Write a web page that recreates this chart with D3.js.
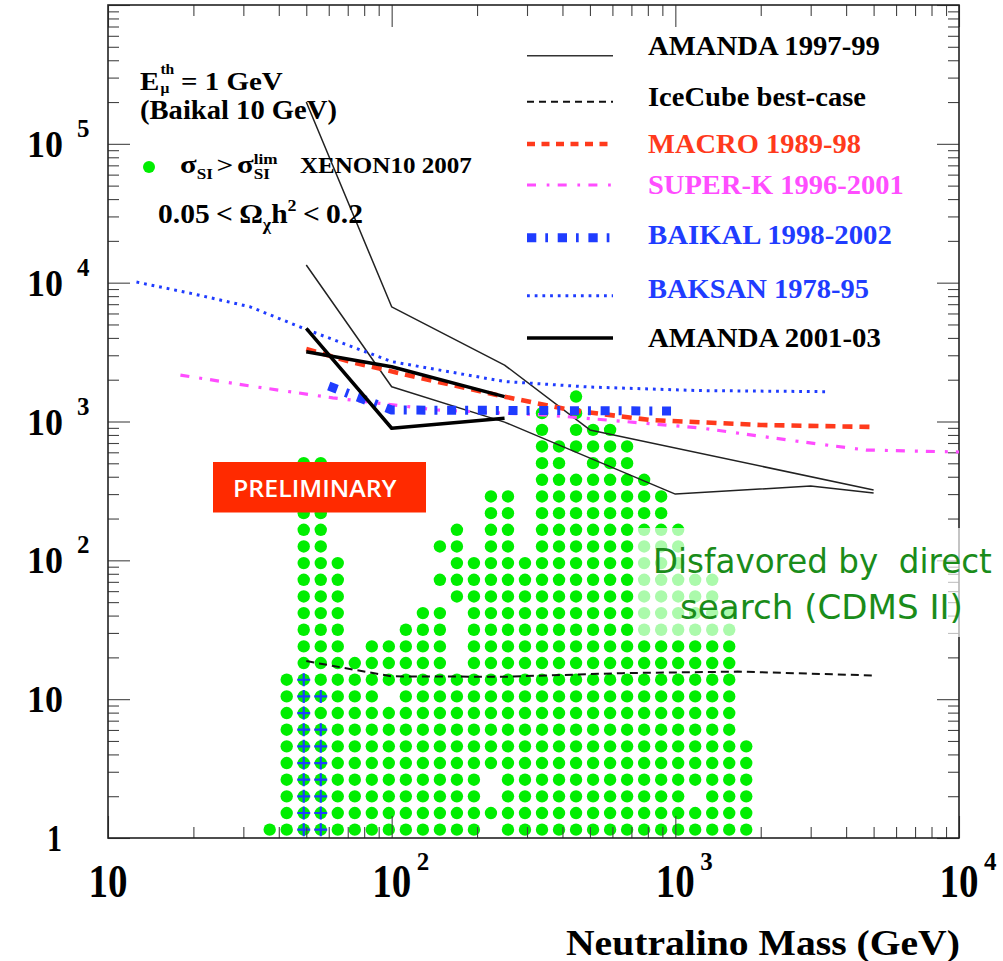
<!DOCTYPE html>
<html>
<head>
<meta charset="utf-8">
<script src="https://cdn.jsdelivr.net/npm/d3@7/dist/d3.min.js"></script>
<style>
  html, body { margin: 0; padding: 0; background: #fff; }
  svg { display: block; }
  text { font-family: "Liberation Serif", "Times New Roman", serif; font-weight: bold; white-space: pre; }
</style>
</head>
<body>
<svg id="chart" width="1003" height="961"></svg>
<script>
// ---------------- data ----------------
// Muon flux limits from the Sun (km^-2 yr^-1) versus neutralino mass (GeV)
const amanda9799Soft = [[50, 2.0e5], [100, 6700], [250, 2550], [500, 870], [5000, 321]];
const amanda9799Hard = [[50, 13400], [100, 1780], [250, 990], [1000, 300], [3000, 343], [5000, 305]];
const amanda0103Soft = [[50, 4690], [100, 894], [250, 1055]];
const amanda0103Hard = [[50, 3180], [100, 2480], [250, 1510]];
const icecubeBest = [[50, 18.8], [75, 16.2], [100, 14.6], [250, 14.5], [650, 15.4], [1660, 15.8], [5000, 14.8]];
const macro8998 = [[50, 3330], [71, 2700], [122, 2090], [250, 1510], [425, 1210], [814, 1025], [2000, 944], [5000, 913]];
const superK9601 = [[18, 2160], [33, 1780], [62, 1480], [145, 1210], [360, 1110], [1220, 900], [2750, 716], [4700, 623], [10000, 603]];
const baikal9802 = [[60, 1800], [100, 1210], [1000, 1190]];
const baksan7895 = [[12.6, 10100], [20, 8300], [31.7, 6700], [50, 4600], [100, 2700], [250, 1940], [500, 1770], [1220, 1670], [3400, 1640]];

// Model scan: 50 x 50 log bins (mass 10..1e4 GeV, flux 1..1e6).
// Each entry: [mass bin, [[first flux bin, last flux bin], ...]]
const histMass = [10, 1e4], histFlux = [1, 1e6], histBins = 50;
const xenonCells = [
  [9,  [[0, 0]]],
  [10, [[0, 9]]],
  [11, [[0, 22]]],
  [12, [[0, 22]]],
  [13, [[0, 16]]],
  [14, [[0, 10]]],
  [15, [[0, 11]]],
  [16, [[0, 7], [9, 11]]],
  [17, [[0, 12]]],
  [18, [[0, 13]]],
  [19, [[0, 13], [15, 15], [17, 17]]],
  [20, [[0, 9], [14, 18]]],
  [21, [[0, 16]]],
  [22, [[1, 1], [4, 20]]],
  [23, [[0, 20]]],
  [24, [[0, 16]]],
  [25, [[0, 25]]],
  [26, [[0, 23]]],
  [27, [[0, 21], [23, 26]]],
  [28, [[0, 24]]],
  [29, [[0, 24]]],
  [30, [[0, 23]]],
  [31, [[0, 21]]],
  [32, [[0, 20]]],
  [33, [[0, 18]]],
  [34, [[0, 1], [3, 15]]],
  [35, [[0, 15]]],
  [36, [[0, 13]]],
  [37, [[0, 5]]]
];
// Models also excluded by Baikal
const crossCells = [
  [11, [[0, 9]]],
  [12, [[0, 6], [8, 8]]]
];

const xMajorExp = [1, 2, 3, 4];
const yMajorExp = [0, 1, 2, 3, 4, 5];

const legendLabels = ["AMANDA 1997-99", "IceCube best-case", "MACRO 1989-98", "SUPER-K 1996-2001",
                      "BAIKAL 1998-2002", "BAKSAN 1978-95", "AMANDA 2001-03"];

// ---------------- layout ----------------
const svg = d3.select("#chart");
const X0 = 108, X1 = 959, Y0 = 5, Y1 = 838;
const x = d3.scaleLog().domain([10, 1e4]).range([X0, X1]);
const y = d3.scaleLog().domain([1, 1e6]).range([Y1, Y0]);

const GREEN = "#00ee00", RED = "#ff3a1c", MAGENTA = "#ff4dff", BLUE = "#1f3cff";

// bin centre helpers
const lx0 = Math.log10(histMass[0]), lxw = (Math.log10(histMass[1]) - lx0) / histBins;
const ly0 = Math.log10(histFlux[0]), lyw = (Math.log10(histFlux[1]) - ly0) / histBins;
const massAt = i => Math.pow(10, lx0 + (i + 0.5) * lxw);
const fluxAt = j => Math.pow(10, ly0 + (j + 0.5) * lyw);
function expand(cells) {
  const pts = [];
  cells.forEach(([i, runs]) => runs.forEach(([a, b]) => {
    for (let j = a; j <= b; j++) pts.push([massAt(i), fluxAt(j)]);
  }));
  return pts;
}

// ---- scan points ----
svg.append("g").selectAll("circle").data(expand(xenonCells)).join("circle")
  .attr("cx", d => x(d[0])).attr("cy", d => y(d[1])).attr("r", 6.2).attr("fill", GREEN);

svg.append("g").selectAll("path").data(expand(crossCells)).join("path")
  .attr("transform", d => `translate(${x(d[0])},${y(d[1])})`)
  .attr("d", "M-6.5,0H6.5M0,-6.5V6.5")
  .attr("stroke", BLUE).attr("stroke-width", 2.2);

// ---- frame and ticks ----
const minors = (lo, hi) => {
  const v = [];
  for (let e = lo; e < hi; e++) for (let k = 2; k <= 9; k++) v.push(k * Math.pow(10, e));
  return v;
};
const xMaj = xMajorExp.map(e => Math.pow(10, e));
const yMaj = [0, 1, 2, 3, 4, 5, 6].map(e => Math.pow(10, e));
const xMin = minors(1, 4), yMin = minors(0, 6);

function axisLayer(axisFn, scale, pos, vals, size) {
  const g = svg.append("g").attr("transform", pos)
    .call(axisFn(scale).tickValues(vals).tickSize(-size).tickFormat(""));
  g.select(".domain").remove();
  g.selectAll(".tick line").attr("stroke", "#444").attr("stroke-width", 1.1);
}
axisLayer(d3.axisBottom, x, `translate(0,${Y1})`, xMaj, 22);
axisLayer(d3.axisBottom, x, `translate(0,${Y1})`, xMin, 11);
axisLayer(d3.axisTop, x, `translate(0,${Y0})`, xMaj, 22);
axisLayer(d3.axisTop, x, `translate(0,${Y0})`, xMin, 11);
axisLayer(d3.axisLeft, y, `translate(${X0},0)`, yMaj, 22);
axisLayer(d3.axisLeft, y, `translate(${X0},0)`, yMin, 11);
axisLayer(d3.axisRight, y, `translate(${X1},0)`, yMaj, 22);
axisLayer(d3.axisRight, y, `translate(${X1},0)`, yMin, 11);

svg.append("rect").attr("x", X0).attr("y", Y0).attr("width", X1 - X0).attr("height", Y1 - Y0)
  .attr("fill", "none").attr("stroke", "#222").attr("stroke-width", 1.6);

// ---- limit curves ----
const line = d3.line().x(d => x(d[0])).y(d => y(d[1]));
const curves = [
  { data: amanda9799Soft, stroke: "#222", width: 1.5, dash: null },
  { data: amanda9799Hard, stroke: "#222", width: 1.5, dash: null },
  { data: icecubeBest, stroke: "#111", width: 2, dash: "8,5" },
  { data: baksan7895, stroke: BLUE, width: 3, dash: "2.8,4.9" },
  { data: superK9601, stroke: MAGENTA, width: 3.2, dash: "9,10,3,8" },
  { data: macro8998, stroke: RED, width: 4.6, dash: "10,7" },
  { data: baikal9802, stroke: BLUE, width: 9, dash: "9,9,3,9.7" },
  { data: amanda0103Soft, stroke: "#000", width: 3.5, dash: null },
  { data: amanda0103Hard, stroke: "#000", width: 3.5, dash: null }
];
svg.append("g").selectAll("path").data(curves).join("path")
  .attr("d", d => line(d.data)).attr("fill", "none")
  .attr("stroke", d => d.stroke).attr("stroke-width", d => d.width)
  .attr("stroke-dasharray", d => d.dash).attr("stroke-linejoin", "round");

// ---- text helpers ----
// lay out pieces on one baseline; a "stack" piece shares the x of the previous one
function pieces(g, list, fill) {
  let cx = 0, prevStart = 0;
  list.forEach(p => {
    const start = p.stack ? prevStart : cx + (p.pre || 0);
    const t = g.append("text").attr("x", start).attr("y", p.dy || 0)
      .attr("font-size", p.size).attr("fill", p.fill || fill || "#000").text(p.t);
    if (p.family) t.style("font-family", p.family);
    if (p.weight) t.style("font-weight", p.weight);
    const w = t.node().getComputedTextLength();
    if (p.stack) cx = Math.max(cx, start + w);
    else { prevStart = start; cx = start + w; }
  });
}
// squeeze/stretch a group horizontally so its ink spans the given width
function fitted(parent, xPos, baseY, width, anchor, build) {
  const g = parent.append("g");
  build(g);
  const bb = g.node().getBBox();
  const sx = width / bb.width;
  const left = anchor === "end" ? xPos - width : anchor === "middle" ? xPos - width / 2 : xPos;
  g.attr("transform", `translate(${left - bb.x * sx},${baseY}) scale(${sx},1)`);
  return g;
}

// ---- axis labels ----
yMajorExp.forEach(e => {
  const ty = y(Math.pow(10, e));
  if (e === 0) {
    fitted(svg, 62, ty + 12.5, 15, "end", g => pieces(g, [{ t: "1", size: 37 }]));
  } else {
    fitted(svg, 63, ty + 13, 36, "end", g => pieces(g, [{ t: "10", size: 38 }]));
    if (e > 1) svg.append("text").attr("x", 77).attr("y", ty - 7).attr("font-size", 25).text(e);
  }
});
xMajorExp.forEach(e => {
  const tx = x(Math.pow(10, e));
  fitted(svg, tx, 897, 39, "middle", g => pieces(g, [{ t: "10", size: 47 }]));
  if (e > 1) svg.append("text").attr("x", tx + 25).attr("y", 870).attr("font-size", 25).text(e);
});
fitted(svg, 960, 955, 394, "end", g => pieces(g, [{ t: "Neutralino Mass (GeV)", size: 35 }]));

// ---- annotations ----
fitted(svg, 140, 90, 143, "start", g => pieces(g, [
  { t: "E", size: 26 }, { t: "th", size: 14, dy: -16, pre: 1 }, { t: "μ", size: 14, dy: 3, stack: true },
  { t: "= 1 GeV", size: 26, pre: 6 }
]));
fitted(svg, 140, 119, 197, "start", g => pieces(g, [{ t: "(Baikal 10 GeV)", size: 27 }]));
svg.append("circle").attr("cx", 149).attr("cy", 167).attr("r", 6).attr("fill", GREEN);
fitted(svg, 180, 173, 98, "start", g => pieces(g, [
  { t: "σ", size: 25 }, { t: "SI", size: 14, dy: 6 }, { t: ">", size: 24, pre: 3 },
  { t: "σ", size: 25, pre: 3 }, { t: "SI", size: 14, dy: 6 }, { t: "lim", size: 14, dy: -9, stack: true }
]));
fitted(svg, 300, 173, 172, "start", g => pieces(g, [{ t: "XENON10 2007", size: 24 }]));
fitted(svg, 158, 223, 205, "start", g => pieces(g, [
  { t: "0.05", size: 28 }, { t: "<", size: 28, pre: 6 }, { t: "Ω", size: 28, pre: 6 },
  { t: "χ", size: 17, dy: 7 }, { t: "h", size: 28 }, { t: "2", size: 17, dy: -12 },
  { t: "<", size: 28, pre: 6 }, { t: "0.2", size: 28, pre: 6 }
]));

// ---- legend ----
const legendStyle = [
  { stroke: "#333", width: 1.5, dash: null, fill: "#000" },
  { stroke: "#111", width: 2, dash: "7,5", fill: "#000" },
  { stroke: RED, width: 4.6, dash: "8,6.5", fill: RED },
  { stroke: MAGENTA, width: 3.2, dash: "9,10.7,2.7,8.3", fill: MAGENTA },
  { stroke: BLUE, width: 9, dash: "9.3,9,2.7,9.7", fill: BLUE },
  { stroke: BLUE, width: 3, dash: "2.8,4.9", fill: BLUE },
  { stroke: "#000", width: 3.5, dash: null, fill: "#000" }
];
const legendLineY = [55.7, 101.7, 144, 185, 237.7, 295.7, 338];
const legendBase = [55, 106, 152.7, 194, 244, 298.3, 346.7];
const legendWidth = [232, 218, 213, 256, 244, 221, 233];
const lg = svg.append("g");
legendLabels.forEach((lab, k) => {
  const s = legendStyle[k];
  lg.append("line").attr("x1", 527).attr("x2", 613).attr("y1", legendLineY[k]).attr("y2", legendLineY[k])
    .attr("stroke", s.stroke).attr("stroke-width", s.width).attr("stroke-dasharray", s.dash);
  fitted(lg, 648, legendBase[k], legendWidth[k], "start", g => pieces(g, [{ t: lab, size: 28 }], s.fill));
});

// ---- direct-search region ----
svg.append("rect").attr("x", 636).attr("y", 528).attr("width", 366).attr("height", 109)
  .attr("fill", "#fff").attr("fill-opacity", 0.67);
const cdmsFont = "'DejaVu Sans', Verdana, sans-serif";
fitted(svg, 653, 573, 339, "start", g => pieces(g, [{ t: "Disfavored by  direct", size: 34, family: cdmsFont, weight: "normal" }], "#1a8c1a"));
fitted(svg, 680, 619, 283, "start", g => pieces(g, [{ t: "search (CDMS II)", size: 34, family: cdmsFont, weight: "normal" }], "#1a8c1a"));

// ---- stamp ----
svg.append("rect").attr("x", 213).attr("y", 462).attr("width", 213).attr("height", 50.5).attr("fill", "#ff2a00");
fitted(svg, 315, 496.7, 164, "middle", g => pieces(g, [{ t: "PRELIMINARY", size: 23, family: "'Open Sans', sans-serif", weight: 600 }], "#fff"));
</script>
</body>
</html>
